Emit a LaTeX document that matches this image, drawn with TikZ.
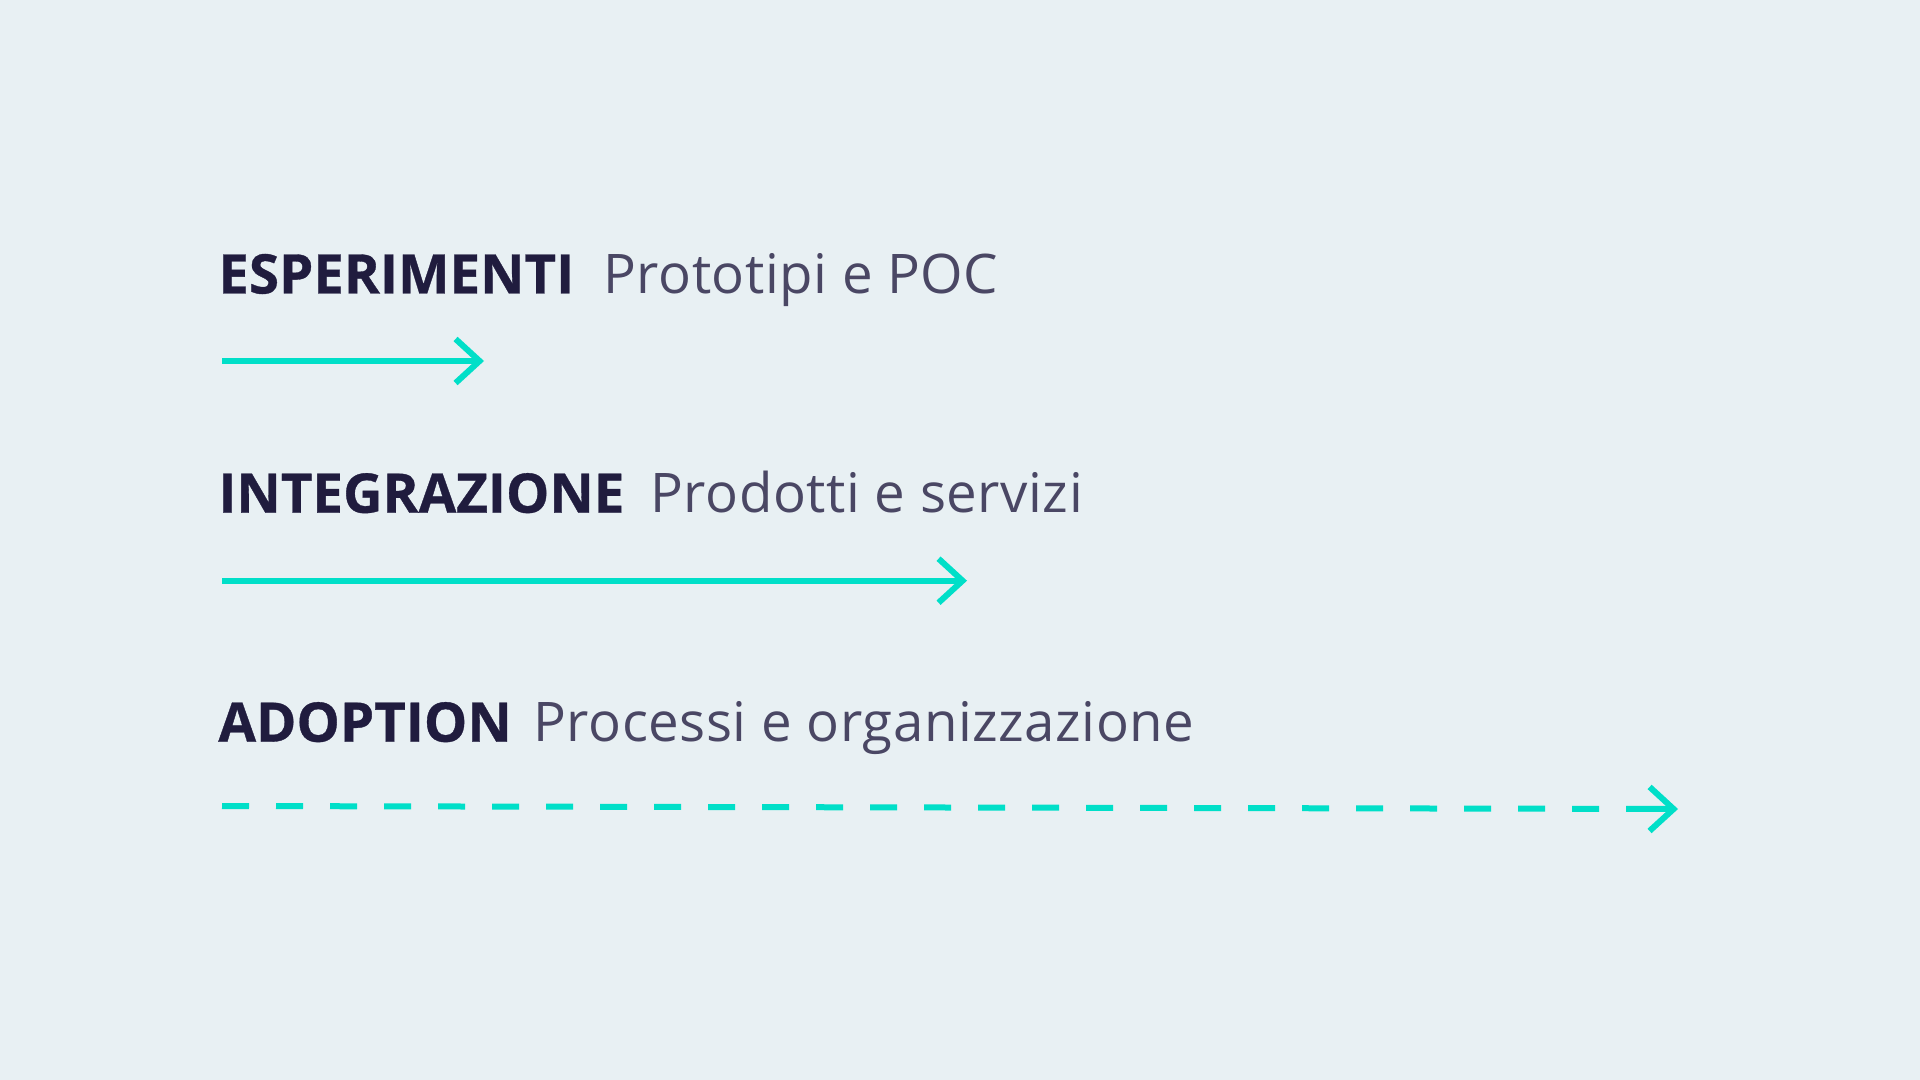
\documentclass[tikz,border=0pt]{standalone}
\usepackage{fontspec}
\usepackage{xcolor}
\setmainfont{Open Sans}[BoldFeatures={FakeBold=0.6}]
\newfontfamily\notefont{Open Sans}[LetterSpace=1]
\usetikzlibrary{arrows.meta}

\begin{document}
\begin{tikzpicture}[x=0.5pt,y=-0.5pt,
  stagetitle/.style={anchor=base west,inner sep=0,text=ink,font=\fontsize{27.3pt}{32pt}\selectfont\bfseries},
  stagenote/.style={anchor=base west,inner sep=0,text=slate,font=\notefont\fontsize{27.3pt}{32pt}\selectfont},
  flow/.style={draw=aqua,line width=3pt,-{Straight Barb[length=12pt,width=22pt]}},
  dashflow/.style={draw=aqua,line width=3pt,dash pattern=on 13.5pt off 13.5pt}]
\definecolor{paper}{HTML}{E8F0F3}
\definecolor{ink}{HTML}{201C3E}
\definecolor{slate}{HTML}{4A4764}
\definecolor{aqua}{HTML}{00DFC8}
\fill[paper] (0,0) rectangle (1920,1080);
  \foreach \nm/\ttl/\nt/\base/\ntx in {esp/ESPERIMENTI/Prototipi e POC/293.5/603,int/INTEGRAZIONE/Prodotti e servizi/512.7/650,ado/ADOPTION/Processi e organizzazione/741.7/533}
  {  \node [stagetitle] (t\nm) at (218,\base) {\ttl};
     \node [stagenote] (n\nm) at (\ntx,\base) {\nt};}
\coordinate (sesp) at (222,361); \coordinate (eesp) at (484,361);
\coordinate (sint) at (222,580.7); \coordinate (eint) at (967,580.7);
\coordinate (sado) at (222,806); \coordinate (mado) at (1627,808.9); \coordinate (eado) at (1678,809);
\draw [flow] (sesp) -- (eesp);
\draw [flow] (sint) -- (eint);
\draw [dashflow] (sado) -- (mado);
\draw [flow] (mado) -- (eado);
\end{tikzpicture}
\end{document}
